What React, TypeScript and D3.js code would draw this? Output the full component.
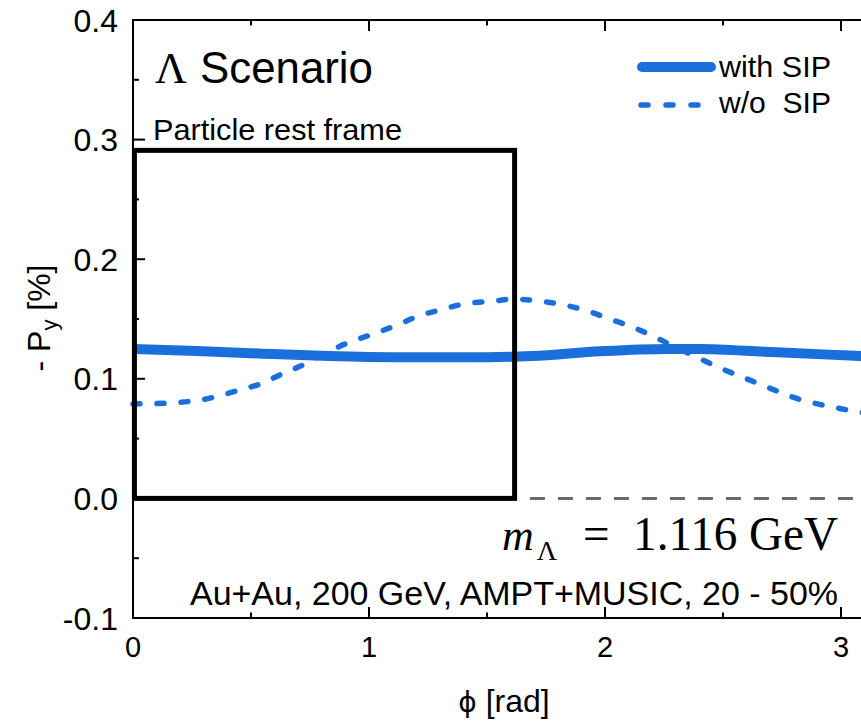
import React from "react";
import * as d3 from "d3";

// ---- data ----
const withSipPhi = [0, 0.27, 0.55, 0.83, 1.12, 1.4, 1.61, 1.69, 1.98, 2.26, 2.4, 2.69, 2.97, 3.08, 3.1416];
const withSipVal = [0.125, 0.1233, 0.121, 0.119, 0.118, 0.118, 0.1185, 0.119, 0.123, 0.125, 0.125, 0.1225, 0.12, 0.119, 0.1185];

const woSipPhi = [0, 0.13, 0.33, 0.44, 0.55, 0.63, 0.72, 0.81, 0.91, 1.01, 1.12, 1.21, 1.31, 1.4, 1.53, 1.61, 1.72, 1.82, 1.92, 2.02, 2.12, 2.22, 2.31, 2.4, 2.5, 2.6, 2.7, 2.79, 2.9, 3.0, 3.08, 3.1416];
const woSipVal = [0.079, 0.0795, 0.084, 0.09, 0.0965, 0.104, 0.1115, 0.121, 0.13, 0.137, 0.145, 0.1525, 0.158, 0.1625, 0.165, 0.1667, 0.165, 0.162, 0.157, 0.15, 0.143, 0.134, 0.1255, 0.117, 0.108, 0.1, 0.092, 0.085, 0.079, 0.075, 0.072, 0.071];

const xMajorTicks = [0, 1, 2, 3];
const xMinorTicks = [0.5, 1.5, 2.5];
const yMajorTicks = [-0.1, 0.0, 0.1, 0.2, 0.3, 0.4];
const yMinorTicks = [-0.05, 0.05, 0.15, 0.25, 0.35];

const legendLabels = ["with SIP", "w/o  SIP"];
const restBox = { x0: 0.006, x1: 1.617, y0: 0.0, y1: 0.291 };
const zeroLineStart = 1.682;

const BLUE = "#1b6fdc";
const SANS = "'Liberation Sans', Arial, Helvetica, sans-serif";
const SERIF = "'Liberation Serif', 'Times New Roman', 'DejaVu Serif', serif";

export default function App() {
  const W = 861, H = 725;
  const x = d3.scaleLinear().domain([0, Math.PI]).range([133, 133 + 236 * Math.PI]);
  const y = d3.scaleLinear().domain([-0.1, 0.4]).range([618, 20]);

  const line = d3
    .line<[number, number]>()
    .x((d) => x(d[0]))
    .y((d) => y(d[1]))
    .curve(d3.curveMonotoneX);

  const solidPath = line(withSipPhi.map((p, i) => [p, withSipVal[i]]) as [number, number][]) || "";
  const dashPath = line(woSipPhi.map((p, i) => [p, woSipVal[i]]) as [number, number][]) || "";

  const left = x(0), right = x(Math.PI), top = y(0.4), bottom = y(-0.1);

  return (
    <svg
      width={W}
      height={H}
      viewBox={`0 0 ${W} ${H}`}
      style={{ position: "absolute", left: 0, top: 0, background: "#fff" }}
    >
      <rect x={0} y={0} width={W} height={H} fill="#fff" />

      {/* zero reference line */}
      <line
        x1={x(zeroLineStart)}
        x2={right}
        y1={y(0)}
        y2={y(0)}
        stroke="#6b6b6b"
        strokeWidth={3}
        strokeDasharray="15 13"
      />

      {/* curves */}
      <path d={dashPath} fill="none" stroke={BLUE} strokeWidth={5.5} strokeDasharray="7 17" strokeLinecap="round" />
      <path d={solidPath} fill="none" stroke={BLUE} strokeWidth={10} />

      {/* rest-frame box */}
      <rect
        x={x(restBox.x0)}
        y={y(restBox.y1)}
        width={x(restBox.x1) - x(restBox.x0)}
        height={y(restBox.y0) - y(restBox.y1)}
        fill="none"
        stroke="#000"
        strokeWidth={5}
      />

      {/* axes frame */}
      <line x1={left} x2={left} y1={top} y2={bottom} stroke="#000" strokeWidth={2} />
      <line x1={right} x2={right} y1={top} y2={bottom} stroke="#000" strokeWidth={2} />
      <line x1={left - 1} x2={right + 1} y1={top} y2={top} stroke="#000" strokeWidth={2} />
      <line x1={left - 1} x2={right + 1} y1={bottom} y2={bottom} stroke="#000" strokeWidth={2} />

      {/* x ticks */}
      {xMajorTicks.map((t) => (
        <g key={"xM" + t}>
          <line x1={x(t)} x2={x(t)} y1={bottom} y2={bottom - 11} stroke="#000" strokeWidth={2} />
          <line x1={x(t)} x2={x(t)} y1={top} y2={top + 11} stroke="#000" strokeWidth={2} />
          <text x={x(t)} y={657} textAnchor="middle" fontFamily={SANS} fontSize={29} fill="#000">
            {t}
          </text>
        </g>
      ))}
      {xMinorTicks.map((t) => (
        <g key={"xm" + t}>
          <line x1={x(t)} x2={x(t)} y1={bottom} y2={bottom - 5.5} stroke="#000" strokeWidth={2} />
          <line x1={x(t)} x2={x(t)} y1={top} y2={top + 5.5} stroke="#000" strokeWidth={2} />
        </g>
      ))}

      {/* y ticks */}
      {yMajorTicks.map((t) => (
        <g key={"yM" + t}>
          <line x1={left} x2={left + 12} y1={y(t)} y2={y(t)} stroke="#000" strokeWidth={2} />
          <text
            x={118}
            y={y(t) + 11.5}
            textAnchor="end"
            fontFamily={SANS}
            fontSize={32}
            fill="#000"
          >
            {t.toFixed(1)}
          </text>
        </g>
      ))}
      {yMinorTicks.map((t) => (
        <line key={"ym" + t} x1={left} x2={left + 6} y1={y(t)} y2={y(t)} stroke="#000" strokeWidth={2} />
      ))}

      {/* axis titles */}
      <text
        transform="translate(50,318) rotate(-90)"
        textAnchor="middle"
        fontFamily={SANS}
        fontSize={32}
        fill="#000"
      >
        - P<tspan fontSize={22} dy={7}>y</tspan>
        <tspan dy={-7}> [%]</tspan>
      </text>
      <text x={504} y={712} textAnchor="middle" fontFamily={SANS} fontSize={32} fill="#000">
        <tspan fontFamily="'DejaVu Sans', sans-serif" fontSize={28}>ϕ</tspan> [rad]
      </text>

      {/* annotations */}
      <text x={155} y={83} fontFamily={SERIF} fontSize={44} fill="#000">
        Λ
      </text>
      <text x={200} y={83} fontFamily={SANS} fontSize={44} fill="#000" textLength={173} lengthAdjust="spacingAndGlyphs">
        Scenario
      </text>
      <text x={153} y={140} fontFamily={SANS} fontSize={29} fill="#000" textLength={249} lengthAdjust="spacingAndGlyphs">
        Particle rest frame
      </text>

      {/* legend */}
      <line x1={642} x2={711} y1={67} y2={67} stroke={BLUE} strokeWidth={10} strokeLinecap="round" />
      <text x={719} y={77} fontFamily={SANS} fontSize={30} fill="#000" textLength={112} lengthAdjust="spacingAndGlyphs">
        {legendLabels[0]}
      </text>
      <line
        x1={641}
        x2={700}
        y1={105}
        y2={105}
        stroke={BLUE}
        strokeWidth={5.5}
        strokeDasharray="7 18"
        strokeLinecap="round"
      />
      <text x={719} y={113} fontFamily={SANS} fontSize={30} fill="#000" textLength={112} lengthAdjust="spacingAndGlyphs" style={{ whiteSpace: "pre" }}>
        {legendLabels[1]}
      </text>

      {/* mass label */}
      <text x={502} y={550} fontFamily={SERIF} fontStyle="italic" fontSize={44} fill="#000">
        m
        <tspan dx={3} dy={10} fontStyle="normal" fontSize={28}>Λ</tspan>
      </text>
      <text x={583} y={550} fontFamily={SERIF} fontSize={48} fill="#000" textLength={255} lengthAdjust="spacingAndGlyphs" style={{ whiteSpace: "pre" }}>
        =  1.116 GeV
      </text>

      <text x={190} y={605} fontFamily={SANS} fontSize={33} fill="#000" textLength={648} lengthAdjust="spacingAndGlyphs">
        Au+Au, 200 GeV, AMPT+MUSIC, 20 - 50%
      </text>
    </svg>
  );
}
